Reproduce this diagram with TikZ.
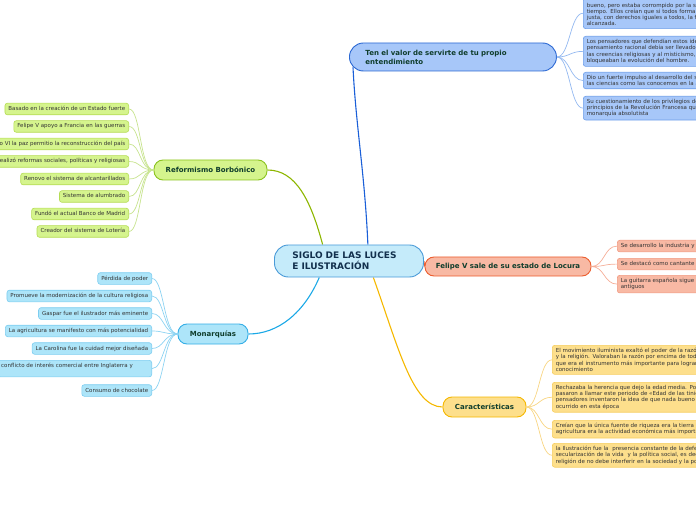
\documentclass[tikz,border=0pt]{standalone}
\usepackage{fontspec}
\setmainfont{DejaVu Sans}
\usetikzlibrary{backgrounds,calc}

\definecolor{siglofill}{HTML}{C5EBFA}
\definecolor{sigloline}{HTML}{4A9BD8}
\definecolor{siglotext}{HTML}{12304D}
\definecolor{valorfill}{HTML}{A7C7F9}
\definecolor{valorline}{HTML}{2B68D3}
\definecolor{valorleaf}{HTML}{6E9FEA}
\definecolor{valortwig}{HTML}{93B8F0}
\definecolor{valoredge}{HTML}{1A5FD8}
\definecolor{reformfill}{HTML}{D5F48D}
\definecolor{reformline}{HTML}{8BC31E}
\definecolor{reformleaf}{HTML}{B5DC55}
\definecolor{reformtwig}{HTML}{C7E38E}
\definecolor{reformedge}{HTML}{8DB600}
\definecolor{monarfill}{HTML}{ADE5F9}
\definecolor{monarline}{HTML}{34AEE6}
\definecolor{monarleaf}{HTML}{7DCDF0}
\definecolor{monartwig}{HTML}{8CD3F2}
\definecolor{monaredge}{HTML}{1AA8E6}
\definecolor{felipefill}{HTML}{F8B9A4}
\definecolor{felipeline}{HTML}{EC5D2E}
\definecolor{felipeleaf}{HTML}{F19A82}
\definecolor{felipetwig}{HTML}{F5AE98}
\definecolor{caractfill}{HTML}{FDDF8C}
\definecolor{caractline}{HTML}{F5B700}
\definecolor{caractleaf}{HTML}{F6CD5E}
\definecolor{caracttwig}{HTML}{F8D582}
\definecolor{caractedge}{HTML}{F5B800}
\definecolor{topictext}{HTML}{0F3D2C}
\definecolor{leaftext}{HTML}{333333}

\tikzset{
  topic/.style={draw, line width=0.9bp, rounded corners=9bp, minimum height=20bp, inner sep=0pt,
    font=\fontsize{7bp}{9bp}\selectfont\bfseries, text=topictext},
  leaf/.style={draw, line width=0.6bp, rounded corners=2.5bp, inner xsep=3.5bp, inner ysep=3bp,
    font=\fontsize{5.5bp}{6.2bp}\selectfont, text=leaftext},
  oneline/.style={text height=4.3bp, text depth=1.3bp},
  wide/.style={text width=210bp, align=left},
  twig/.style={line width=0.7bp},
  branch/.style={line width=1.1bp},
}

\begin{document}
\begin{tikzpicture}[x=1bp,y=-1bp]
  \useasboundingbox (0,0) rectangle (696,520);

  % Central topic
  \node[draw=sigloline, fill=siglofill, line width=0.9bp, rounded corners=14bp, anchor=west,
    minimum height=32bp, text width=113bp, inner xsep=18bp, inner ysep=0pt, align=left,
    font=\fontsize{9bp}{11bp}\selectfont\bfseries, text=siglotext] (siglo) at (274,261)
    {SIGLO DE LAS LUCES\\E ILUSTRACIÓN};

  % Main topics
  \node[topic, draw=valorline, fill=valorfill, anchor=west, minimum height=28bp, rounded corners=14bp,
    text width=175bp, inner xsep=16bp, align=left] (valor) at (349,57)
    {Ten el valor de servirte de tu propio\\entendimiento};
  \node[topic, draw=reformline, fill=reformfill, minimum width=113bp] (reform) at (210.5,170) {Reformismo Borbónico};
  \node[topic, draw=monarline, fill=monarfill, minimum width=70bp] (monar) at (213,334) {Monarquías};
  \node[topic, draw=felipeline, fill=felipefill, minimum width=166bp, minimum height=19bp] (felipe) at (508,266.5) {Felipe V sale de su estado de Locura};
  \node[topic, draw=caractline, fill=caractfill, minimum width=83bp] (caract) at (484.5,407) {Características};

  % Branches from the centre
  \begin{scope}[on background layer]
    \draw[branch, valoredge] (siglo.41) .. controls +(-3,-70) and +(3,60) .. ($(valor.south west)+(4,-4)$);
    \draw[branch, reformedge] (siglo.148) .. controls +(-12,-45) and +(28,0) .. (reform.east);
    \draw[branch, monaredge] (siglo.209) .. controls +(-15,35) and +(30,0) .. (monar.east);
    \draw[branch, caractedge] (siglo.-34) .. controls +(25,70) and +(-30,0) .. (caract.west);
    \draw[branch, felipeline] (siglo.east) -- (felipe.west);
  \end{scope}

  % Reformismo Borbonico leaves
  \foreach \txt [count=\i] in {Basado en la creación de un Estado fuerte, Felipe V apoyo a Francia en las guerras,
      Con Fernando VI la paz permitio la reconstrucción del país, {Realizó reformas sociales, políticas y religiosas},
      Renovo el sistema de alcantarillados, Sistema de alumbrado, Fundó el actual Banco de Madrid,
      Creador del sistema de Lotería} {
    \node[leaf, oneline, draw=reformleaf, fill=reformfill, anchor=east] (re\i) at (129,{91.5+17.5*\i}) {\txt};
    \draw[twig, reformtwig] (reform.west) .. controls +(-14,0) and +(12,0) .. (re\i.east);
  }

  % Monarquias leaves
  \foreach \txt [count=\i] in {Pérdida de poder, Promueve la modernización de la cultura religiosa,
      Gaspar fue el ilustrador más eminente, La agricultura se manifesto con más potencialidad,
      La Carolina fue la cuidad mejor diseñada} {
    \node[leaf, oneline, draw=monarleaf, fill=monarfill, anchor=east] (mo\i) at (152,{261+17.5*\i}) {\txt};
  }
  \node[leaf, draw=monarleaf, fill=monarfill, anchor=north east, text width=147bp, align=left] (mo6) at (152,360)
    {conflicto de interés comercial entre Inglaterra y\\\mbox{}};
  \node[leaf, oneline, draw=monarleaf, fill=monarfill, anchor=east] (mo7) at (152,390.5) {Consumo de chocolate};
  \foreach \i in {1,...,7} {
    \draw[twig, monartwig] (monar.west) .. controls +(-14,0) and +(12,0) .. (mo\i.east);
  }

  % Ten el valor leaves
  \node[leaf, wide, draw=valorleaf, fill=valorfill, anchor=south west] (tv1) at (583,29)
    {\mbox{}\\bueno, pero estaba corrompido por la sociedad\\tiempo. Ellos creían que si todos formaran\\justa, con derechos iguales a todos, la felicidad\\alcanzada.};
  \node[leaf, wide, draw=valorleaf, fill=valorfill, anchor=north west] (tv2) at (583,36)
    {Los pensadores que defendían estos ideales\\pensamiento racional debía ser llevado\\las creencias religiosas y al misticismo,\\bloqueaban la evolución del hombre.};
  \node[leaf, wide, draw=valorleaf, fill=valorfill, anchor=north west] (tv3) at (583,72)
    {Dio un fuerte impulso al desarrollo del saber\\las ciencias como las conocemos en la actualidad};
  \node[leaf, wide, draw=valorleaf, fill=valorfill, anchor=north west] (tv4) at (583,96)
    {Su cuestionamiento de los privilegios de\\principios de la Revolución Francesa que\\monarquía absolutista};
  \foreach \i in {1,...,4} {
    \draw[twig, valortwig] (valor.east) .. controls +(13,0) and +(-13,0) .. (tv\i.west);
  }

  % Felipe V leaves
  \node[leaf, wide, oneline, draw=felipeleaf, fill=felipefill, anchor=north west] (fe1) at (617,240) {Se desarrollo la industria y};
  \node[leaf, wide, oneline, draw=felipeleaf, fill=felipefill, anchor=north west] (fe2) at (617,258) {Se destacó como cantante};
  \node[leaf, wide, draw=felipeleaf, fill=felipefill, anchor=north west] (fe3) at (617,275) {La guitarra española sigue\\antiguos};
  \foreach \i in {1,2,3} {
    \draw[twig, felipetwig] (felipe.east) .. controls +(13,0) and +(-13,0) .. (fe\i.west);
  }

  % Caracteristicas leaves
  \node[leaf, wide, draw=caractleaf, fill=caractfill, anchor=north west] (ca1) at (552,345)
    {El movimiento iluminista exaltó el poder de la razón\\y la religión. Valoraban la razón por encima de todo\\que era el instrumento más importante para lograr\\conocimiento};
  \node[leaf, wide, draw=caractleaf, fill=caractfill, anchor=north west] (ca2) at (552,382)
    {Rechazaba la herencia que dejo la edad media. Por\\pasaron a llamar este periodo de «Edad de las tinieblas»\\pensadores inventaron la idea de que nada bueno\\ocurrido en esta época};
  \node[leaf, wide, draw=caractleaf, fill=caractfill, anchor=north west] (ca3) at (552,420)
    {Creían que la única fuente de riqueza era la tierra y\\agricultura era la actividad económica más importante};
  \node[leaf, wide, draw=caractleaf, fill=caractfill, anchor=north west] (ca4) at (552,443)
    {la Ilustración fue la \ presencia constante de la defensa\\secularización de la vida \ y la política social, es decir\\religión de no debe interferir en la sociedad y la política};
  \foreach \i in {1,...,4} {
    \draw[twig, caracttwig] (caract.east) .. controls +(13,0) and +(-13,0) .. (ca\i.west);
  }
\end{tikzpicture}
\end{document}
